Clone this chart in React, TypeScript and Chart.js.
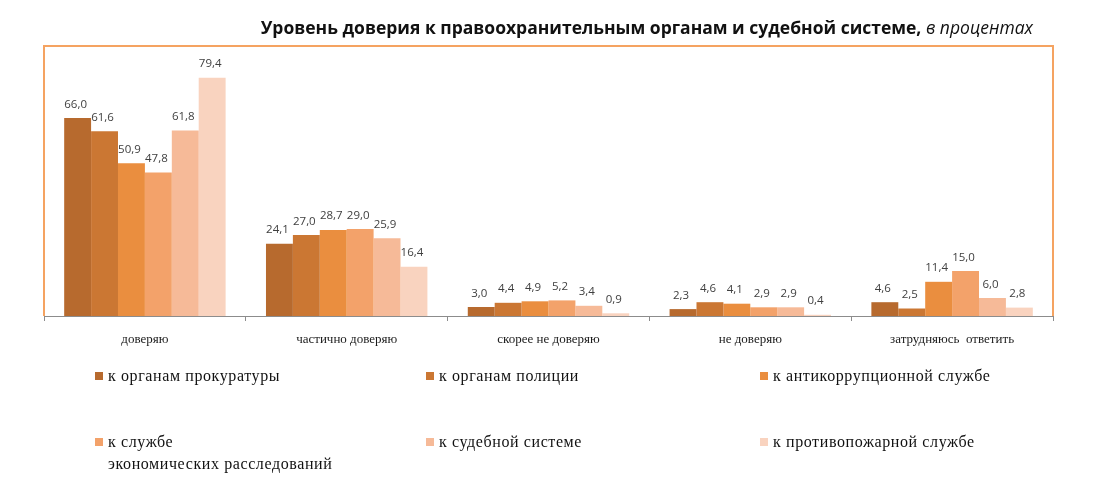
import React, { useEffect, useRef } from "react";
import { Chart, registerables } from "chart.js";

Chart.register(...registerables);

const categories = ["доверяю", "частично доверяю", "скорее не доверяю", "не доверяю", "затрудняюсь  ответить"];
const seriesNames = [
  "к органам прокуратуры",
  "к органам полиции",
  "к антикоррупционной службе",
  "к службе экономических расследований",
  "к судебной системе",
  "к противопожарной службе",
];
const prosecutors = [66.0, 24.1, 3.0, 2.3, 4.6];
const police = [61.6, 27.0, 4.4, 4.6, 2.5];
const antiCorruption = [50.9, 28.7, 4.9, 4.1, 11.4];
const economicInvestigations = [47.8, 29.0, 5.2, 2.9, 15.0];
const judicial = [61.8, 25.9, 3.4, 2.9, 6.0];
const fireService = [79.4, 16.4, 0.9, 0.4, 2.8];
const seriesColors = ["#B76A2E", "#CB7733", "#EA8E3F", "#F3A26A", "#F6BA98", "#F9D3BF"];

const valueLabelPlugin = {
  id: "valueLabels",
  afterDatasetsDraw(chart: any) {
    const ctx = chart.ctx;
    ctx.save();
    ctx.font = "11.5px 'Open Sans', sans-serif";
    ctx.fillStyle = "#404040";
    ctx.textAlign = "center";
    ctx.textBaseline = "bottom";
    chart.data.datasets.forEach((ds: any, i: number) => {
      const meta = chart.getDatasetMeta(i);
      meta.data.forEach((bar: any, j: number) => {
        const v = ds.data[j];
        ctx.fillText(v.toFixed(1).replace(".", ","), bar.x - 2, bar.y - 8);
      });
    });
    ctx.restore();
  },
};

const framePlugin = {
  id: "frame",
  beforeDatasetsDraw(chart: any) {
    const { ctx, chartArea } = chart;
    ctx.save();
    ctx.strokeStyle = "#F5A361";
    ctx.lineWidth = 2;
    ctx.beginPath();
    ctx.moveTo(chartArea.left, chartArea.bottom);
    ctx.lineTo(chartArea.left, chartArea.top);
    ctx.lineTo(chartArea.right, chartArea.top);
    ctx.lineTo(chartArea.right, chartArea.bottom);
    ctx.stroke();
    ctx.restore();
  },
};

const legendPos = [
  { left: 95, top: 371 },
  { left: 426, top: 371 },
  { left: 760, top: 371 },
  { left: 95, top: 437 },
  { left: 426, top: 437 },
  { left: 760, top: 437 },
];

export default function App() {
  const ref = useRef<HTMLCanvasElement | null>(null);
  useEffect(() => {
    if (!ref.current) return;
    const allSeries = [prosecutors, police, antiCorruption, economicInvestigations, judicial, fireService];
    const chart = new Chart(ref.current, {
      type: "bar",
      data: {
        labels: categories,
        datasets: allSeries.map((d, i) => ({
          label: seriesNames[i],
          data: d,
          backgroundColor: seriesColors[i],
          borderWidth: 0,
          categoryPercentage: 0.8,
          barPercentage: 1.0,
        })),
      },
      options: {
        animation: false,
        responsive: false,
        maintainAspectRatio: false,
        layout: { padding: { left: 44, right: 67, top: 46, bottom: 0 } },
        plugins: { legend: { display: false }, title: { display: false }, tooltip: { enabled: false } },
        scales: {
          x: {
            grid: { display: true, drawOnChartArea: false, drawTicks: true, tickLength: 5, color: "#8C8C8C" },
            border: { display: true, color: "#8C8C8C", width: 1 },
            ticks: {
              color: "#1a1a1a",
              font: { family: "'Liberation Serif', serif", size: 13 },
              padding: 11,
            },
            afterFit: (scale: any) => {
              scale.height = 492 - 316;
            },
          },
          y: {
            display: false,
            min: 0,
            max: 90,
          },
        },
      },
      plugins: [framePlugin, valueLabelPlugin],
    });
    return () => chart.destroy();
  }, []);

  return (
    <div style={{ position: "fixed", left: 0, top: 0, width: 1120, height: 492, background: "#fff", overflow: "hidden" }}>
      <canvas ref={ref} width={1120} height={492} style={{ position: "absolute", left: 0, top: 0 }} />
      <div
        style={{
          position: "absolute",
          right: 1120 - 1033,
          top: 14,
          fontFamily: "'Open Sans', sans-serif",
          fontSize: 17.5,
          lineHeight: "26px",
          color: "#111",
          whiteSpace: "nowrap",
        }}
      >
        <span style={{ fontWeight: 700 }}>Уровень доверия к правоохранительным органам и судебной системе,</span>
        <span style={{ fontStyle: "italic" }}> в процентах</span>
      </div>
      {seriesNames.map((name, i) => (
        <div
          key={name}
          style={{
            position: "absolute",
            left: legendPos[i].left,
            top: legendPos[i].top,
            display: "flex",
            alignItems: "flex-start",
            fontFamily: "'Liberation Serif', serif",
            fontSize: 16,
            letterSpacing: 0.6,
            color: "#111",
          }}
        >
          <span style={{ display: "inline-block", width: 8, height: 8, background: seriesColors[i], marginTop: 1, marginRight: 5 }} />
          <span style={{ lineHeight: "22px", marginTop: -6, width: i === 3 ? 280 : 320, whiteSpace: "nowrap" }}>
            {i === 3 ? (
              <>
                к службе
                <br />
                экономических расследований
              </>
            ) : (
              name
            )}
          </span>
        </div>
      ))}
    </div>
  );
}
